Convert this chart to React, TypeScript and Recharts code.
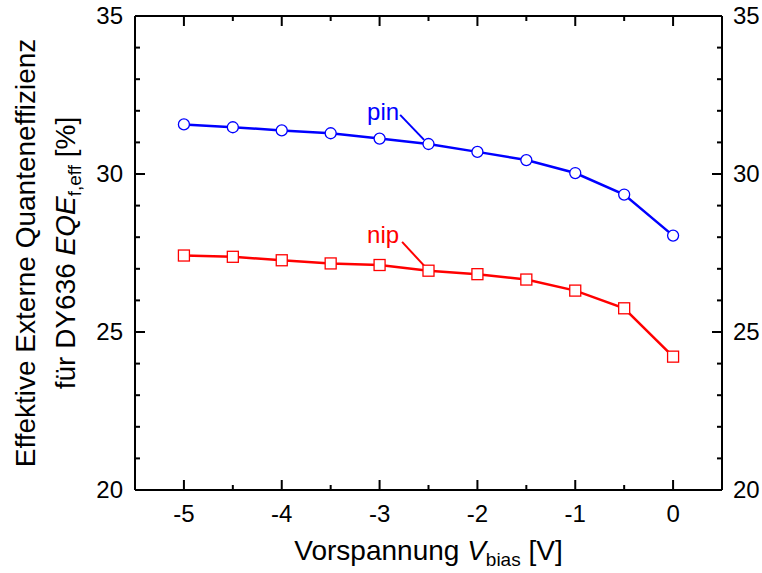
import React from 'react'
import { ComposedChart, Line, Scatter, XAxis, YAxis, ReferenceLine, ReferenceDot, Label } from 'recharts'

const voltage = [-5, -4.5, -4, -3.5, -3, -2.5, -2, -1.5, -1, -0.5, 0]
const pinEqe = [31.57, 31.48, 31.38, 31.29, 31.12, 30.95, 30.7, 30.44, 30.03, 29.35, 28.05]
const nipEqe = [27.42, 27.38, 27.27, 27.17, 27.12, 26.94, 26.83, 26.66, 26.31, 25.75, 24.22]

const xTicks = [-5, -4.5, -4, -3.5, -3, -2.5, -2, -1.5, -1, -0.5, 0]
const yTicks = [20, 21, 22, 23, 24, 25, 26, 27, 28, 29, 30, 31, 32, 33, 34, 35]

const X_MIN = -5.5
const X_MAX = 0.5
const Y_MIN = 20
const Y_MAX = 35

const data = voltage.map((v, i) => ({ v, pin: pinEqe[i], nip: nipEqe[i] }))

const FONT = '"Liberation Sans", Arial, sans-serif'
const BLUE = '#0000ff'
const RED = '#ff0000'
const TICK_FONT = 24
const TITLE_FONT = 28

const isMajorX = (v: number) => Number.isInteger(v)
const isMajorY = (v: number) => v % 5 === 0

// anchor points for the inward tick marks on the frame
const frameTicks = [
  ...xTicks.map((t) => ({ v: t, y: Y_MIN, side: 'b', major: isMajorX(t) })),
  ...xTicks.map((t) => ({ v: t, y: Y_MAX, side: 't', major: isMajorX(t) })),
  ...yTicks.map((t) => ({ v: X_MIN, y: t, side: 'l', major: isMajorY(t) })),
  ...yTicks.map((t) => ({ v: X_MAX, y: t, side: 'r', major: isMajorY(t) })),
]

function FrameTick({ cx, cy, payload }: any) {
  const len = payload.major ? 10 : 5
  const s = payload.side
  if (s === 'b') return <rect x={cx - 1} y={cy - len} width={2} height={len} fill="#000" />
  if (s === 't') return <rect x={cx - 1} y={cy} width={2} height={len} fill="#000" />
  if (s === 'l') return <rect x={cx} y={cy - 1} width={len} height={2} fill="#000" />
  return <rect x={cx - len} y={cy - 1} width={len} height={2} fill="#000" />
}

function BottomTick({ x, y, payload }: any) {
  if (!isMajorX(payload.value)) return <g />
  return (
    <text x={x} y={y + 32} textAnchor="middle" fontSize={TICK_FONT} fontFamily={FONT} fill="#000">
      {payload.value}
    </text>
  )
}

function LeftTick({ x, y, payload }: any) {
  if (!isMajorY(payload.value)) return <g />
  return (
    <text x={x - 12} y={y + 8} textAnchor="end" fontSize={TICK_FONT} fontFamily={FONT} fill="#000">
      {payload.value}
    </text>
  )
}

function RightTick({ x, y, payload }: any) {
  if (!isMajorY(payload.value)) return <g />
  return (
    <text x={x + 11} y={y + 8} textAnchor="start" fontSize={TICK_FONT} fontFamily={FONT} fill="#000">
      {payload.value}
    </text>
  )
}

function SquareDot({ cx, cy, index }: any) {
  return <rect key={index} x={cx - 5.5} y={cy - 5.5} width={11} height={11} fill="#fff" stroke={RED} strokeWidth={1.3} />
}

function CircleDot({ cx, cy, index }: any) {
  return <circle key={index} cx={cx} cy={cy} r={5.5} fill="#fff" stroke={BLUE} strokeWidth={1.3} />
}

function YTitle({ viewBox }: any) {
  const cy = viewBox.y + viewBox.height / 2
  return (
    <g fontFamily={FONT} fontSize={TITLE_FONT} fill="#000">
      <text x={35} y={cy} textAnchor="middle" transform={`rotate(-90, 35, ${cy})`}>
        Effektive Externe Quanteneffizienz
      </text>
      <text x={75} y={cy} textAnchor="middle" transform={`rotate(-90, 75, ${cy})`}>
        <tspan>für DY636 </tspan>
        <tspan fontStyle="italic">EQE</tspan>
        <tspan fontSize={19} dy={6}>f,eff</tspan>
        <tspan dy={-6}> [%]</tspan>
      </text>
    </g>
  )
}

function XTitle({ viewBox }: any) {
  const cx = viewBox.x + viewBox.width / 2
  return (
    <text x={cx} y={560} textAnchor="middle" fontFamily={FONT} fontSize={TITLE_FONT} fill="#000">
      <tspan>Vorspannung </tspan>
      <tspan fontStyle="italic">V</tspan>
      <tspan fontSize={19} dy={6}>bias</tspan>
      <tspan dy={-6}> [V]</tspan>
    </text>
  )
}

function Tag({ viewBox, text, color }: any) {
  return (
    <text x={viewBox.x} y={viewBox.y} fontSize={24} fontFamily={FONT} fill={color}>
      {text}
    </text>
  )
}

export default function App() {
  return (
    <div style={{ position: 'absolute', left: 0, top: 0, background: '#fff' }}>
      <ComposedChart width={762} height={573} data={data} margin={{ top: 0, right: 0, left: 0, bottom: 0 }}>
        <XAxis
          xAxisId="b"
          dataKey="v"
          type="number"
          domain={[X_MIN, X_MAX]}
          ticks={xTicks}
          interval={0}
          height={83}
          tickSize={0}
          tickMargin={0}
          tickLine={false}
          axisLine={{ stroke: '#000', strokeWidth: 2 }}
          tick={<BottomTick />}
        >
          <Label content={<XTitle />} />
        </XAxis>
        <XAxis
          xAxisId="t"
          orientation="top"
          dataKey="v"
          type="number"
          domain={[X_MIN, X_MAX]}
          ticks={xTicks}
          height={16}
          tickLine={false}
          tick={false}
          axisLine={{ stroke: '#000', strokeWidth: 2 }}
        />
        <YAxis
          yAxisId="l"
          type="number"
          domain={[Y_MIN, Y_MAX]}
          ticks={yTicks}
          interval={0}
          width={135}
          tickSize={0}
          tickMargin={0}
          tickLine={false}
          axisLine={{ stroke: '#000', strokeWidth: 2 }}
          tick={<LeftTick />}
        >
          <Label content={<YTitle />} />
        </YAxis>
        <YAxis
          yAxisId="r"
          orientation="right"
          type="number"
          domain={[Y_MIN, Y_MAX]}
          ticks={yTicks}
          interval={0}
          width={40}
          tickSize={0}
          tickMargin={0}
          tickLine={false}
          axisLine={{ stroke: '#000', strokeWidth: 2 }}
          tick={<RightTick />}
        />
        <Scatter
          xAxisId="b"
          yAxisId="l"
          data={frameTicks}
          dataKey="y"
          shape={<FrameTick />}
          isAnimationActive={false}
        />
        <Line
          xAxisId="b"
          yAxisId="l"
          dataKey="pin"
          stroke={BLUE}
          strokeWidth={2.5}
          dot={CircleDot}
          isAnimationActive={false}
        />
        {/* same 20..35 range as the left axis */}
        <Line
          xAxisId="b"
          yAxisId="r"
          dataKey="nip"
          stroke={RED}
          strokeWidth={2.5}
          dot={SquareDot}
          isAnimationActive={false}
        />
        {/* annotation leaders */}
        <ReferenceLine
          xAxisId="b"
          yAxisId="l"
          segment={[{ x: -2.79, y: 31.87 }, { x: -2.545, y: 31.08 }]}
          stroke={BLUE}
          strokeWidth={2}
        />
        <ReferenceLine
          xAxisId="b"
          yAxisId="l"
          segment={[{ x: -2.77, y: 27.85 }, { x: -2.545, y: 27.1 }]}
          stroke={RED}
          strokeWidth={2}
        />
        <ReferenceDot xAxisId="b" yAxisId="l" x={-3.128} y={31.71} r={0} stroke="none" fill="none">
          <Label content={<Tag text="pin" color={BLUE} />} />
        </ReferenceDot>
        <ReferenceDot xAxisId="b" yAxisId="l" x={-3.128} y={27.82} r={0} stroke="none" fill="none">
          <Label content={<Tag text="nip" color={RED} />} />
        </ReferenceDot>
      </ComposedChart>
    </div>
  )
}
